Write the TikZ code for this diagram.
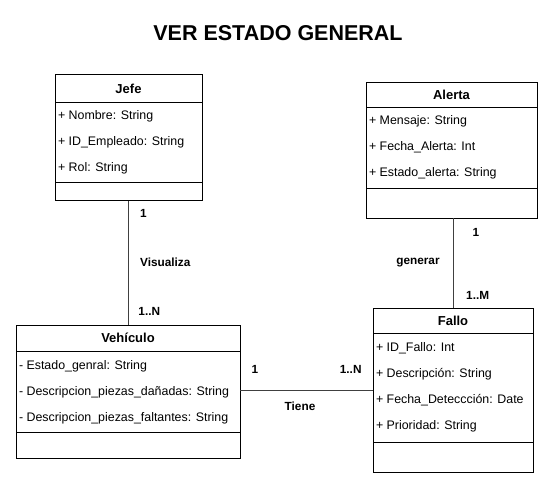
\documentclass[tikz,border=0pt]{standalone}
\usepackage{fontspec}
\setmainfont{Liberation Sans}
\usepackage{tikz}
\tikzset{
  uhead/.style={draw=black,line width=0.9pt,inner sep=0pt,outer sep=0pt,font=\fontsize{13}{15}\selectfont\bfseries},
  uattr/.style={draw=black,line width=0.9pt,anchor=north,inner xsep=3pt,inner ysep=0pt,outer sep=0pt,align=flush left,font=\fontsize{12.4}{26}\selectfont},
  uoper/.style={draw=black,line width=0.9pt,anchor=north,inner sep=0pt,outer sep=0pt},
  ulink/.style={line width=0.9pt,draw=black!75},
  ulbl/.style={font=\fontsize{11.8}{13}\selectfont\bfseries,inner sep=0pt}
}

\begin{document}
\begin{tikzpicture}[x=1pt,y=-1pt]
  \useasboundingbox (0,0) rectangle (556,487);
  \node[font=\fontsize{21.5}{24}\selectfont\bfseries] (titulo) at (278,33) {VER ESTADO GENERAL};
  % Jefe
  \node[uhead,minimum width=147pt,minimum height=28.7pt] (jefeH) at (128.5,88.4) {Jefe};
  \node[uattr,text width=141pt,minimum height=79.3pt] (jefeA) at (jefeH.south) {+ Nombre: String\\ + ID\_Empleado: String\\ + Rol: String};
  \node[uoper,minimum width=147pt,minimum height=18.7pt] (jefeM) at (jefeA.south) {};
  % Alerta
  \node[uhead,minimum width=171pt,minimum height=25pt] (alertaH) at (451.5,94.5) {Alerta};
  \node[uattr,text width=165pt,minimum height=81pt] (alertaA) at (alertaH.south) {+ Mensaje: String\\ + Fecha\_Alerta: Int\\ + Estado\_alerta: String};
  \node[uoper,minimum width=171pt,minimum height=30pt] (alertaM) at (alertaA.south) {};
  % Vehiculo
  \node[uhead,minimum width=224pt,minimum height=26pt] (vehH) at (128,338) {Vehículo};
  \node[uattr,text width=218pt,minimum height=81.7pt] (vehA) at (vehH.south) {- Estado\_genral: String\\ - Descripcion\_piezas\_dañadas: String\\ - Descripcion\_piezas\_faltantes: String};
  \node[uoper,minimum width=224pt,minimum height=25.3pt] (vehM) at (vehA.south) {};
  % Fallo
  \node[uhead,minimum width=160pt,minimum height=25pt] (falloH) at (453,320.5) {Fallo};
  \node[uattr,text width=154pt,minimum height=109pt] (falloA) at (falloH.south) {+ ID\_Fallo: Int\\ + Descripción: String\\ + Fecha\_Deteccción: Date\\ + Prioridad: String};
  \node[uoper,minimum width=160pt,minimum height=30pt] (falloM) at (falloA.south) {};
  % relaciones
  \coordinate (tieneY) at (0,390);
  \draw[ulink] (jefeM.south) -- (jefeM.south |- vehH.north);
  \draw[ulink] (alertaM.south -| falloH.north) -- (falloH.north);
  \draw[ulink] (vehA.east |- tieneY) -- (falloA.west |- tieneY);
  \node[ulbl] (l1a) at (143.3,213.3) {1};
  \node[ulbl] (l1b) at (165.3,262.7) {Visualiza};
  \node[ulbl] (l1c) at (149.3,311.7) {1..N};
  \node[ulbl] (l2a) at (476,232) {1};
  \node[ulbl] (l2b) at (418,262.7) {generar};
  \node[ulbl] (l2c) at (477.7,295) {1..M};
  \node[ulbl] (l3a) at (255,369) {1};
  \node[ulbl] (l3b) at (350.7,369) {1..N};
  \node[ulbl] (l3c) at (300,406.7) {Tiene};
\end{tikzpicture}
\end{document}
